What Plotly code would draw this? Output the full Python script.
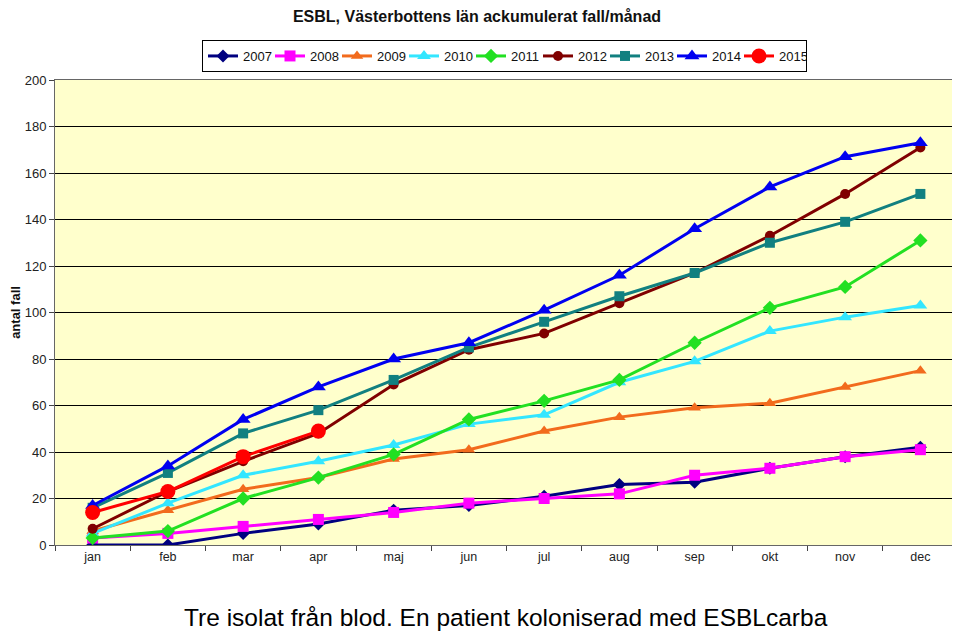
import plotly.graph_objects as go

months = ["jan", "feb", "mar", "apr", "maj", "jun", "jul", "aug", "sep", "okt", "nov", "dec"]

y2007 = [0, 0, 5, 9, 15, 17, 21, 26, 27, 33, 38, 42]
y2008 = [3, 5, 8, 11, 14, 18, 20, 22, 30, 33, 38, 41]
y2009 = [6, 15, 24, 29, 37, 41, 49, 55, 59, 61, 68, 75]
y2010 = [5, 18, 30, 36, 43, 52, 56, 70, 79, 92, 98, 103]
y2011 = [3, 6, 20, 29, 39, 54, 62, 71, 87, 102, 111, 131]
y2012 = [7, 23, 36, 48, 69, 84, 91, 104, 117, 133, 151, 171]
y2013 = [16, 31, 48, 58, 71, 85, 96, 107, 117, 130, 139, 151]
y2014 = [17, 34, 54, 68, 80, 87, 101, 116, 136, 154, 167, 173]
y2015 = [14, 23, 38, 49]

series = [
    ("2007", y2007, "#000080", "diamond", 10),
    ("2008", y2008, "#FF00FF", "square", 11),
    ("2009", y2009, "#F26B1D", "triangle-up", 11),
    ("2010", y2010, "#33E6FF", "triangle-up", 12),
    ("2011", y2011, "#22E022", "diamond", 11),
    ("2012", y2012, "#800000", "circle", 10),
    ("2013", y2013, "#118080", "square", 10),
    ("2014", y2014, "#0000F0", "triangle-up", 13),
    ("2015", y2015, "#FF0000", "circle", 15),
]

fig = go.Figure()
for name, ys, color, sym, size in series:
    fig.add_trace(go.Scatter(
        x=months[:len(ys)], y=ys, name=name, mode="lines+markers",
        line=dict(color=color, width=3),
        marker=dict(color=color, symbol=sym, size=size),
    ))

font_family = "Arial, Liberation Sans, sans-serif"

# page has an 8px body margin, so the figure is sized to the visible area
W, H = 952, 627
L, R, T, B = 47, 2, 72, 90
plot_h = H - T - B

fig.update_layout(
    width=W, height=H,
    paper_bgcolor="white",
    plot_bgcolor="#FFFFCC",
    margin=dict(l=L, r=R, t=T, b=B, autoexpand=False),
    font=dict(family=font_family, size=12, color="#222222"),
    title=dict(text="<b>ESBL, Västerbottens län ackumulerat fall/månad</b>",
               x=469 / W, xanchor="center", y=1 - 3 / H, yanchor="top",
               font=dict(size=16, color="#111111")),
    showlegend=True,
    legend=dict(orientation="h", x=(496.5 - L) / (W - L - R), xanchor="center",
                y=1 + (T - 32) / plot_h, yanchor="top",
                bordercolor="#000000", borderwidth=1, bgcolor="white",
                font=dict(size=13, color="#111111"),
                itemwidth=30, entrywidth=22, entrywidthmode="pixels"),
    xaxis=dict(type="category", categoryorder="array", categoryarray=months,
               range=[-0.5, 11.5], showgrid=False, tickson="boundaries",
               ticks="outside", ticklen=5, tickcolor="#444444",
               showline=True, linecolor="#666666", linewidth=1, mirror=True,
               automargin=False,
               tickfont=dict(size=12.5, color="#222222")),
    yaxis=dict(range=[0, 200], dtick=20, showgrid=True, gridcolor="#000000",
               gridwidth=1, ticks="outside", ticklen=5, tickcolor="#444444",
               showline=True, linecolor="#666666", linewidth=1, mirror=True,
               zeroline=False, automargin=False,
               title=dict(text="<b>antal fall</b>", font=dict(size=13, color="#111111"), standoff=7),
               tickfont=dict(size=13, color="#222222")),
    annotations=[dict(text="Tre isolat från blod. En patient koloniserad med ESBLcarba",
                      xref="paper", yref="paper", x=(174 - L) / (W - L - R), xanchor="left",
                      y=-(625 - (H - B)) / plot_h, yanchor="bottom", showarrow=False,
                      font=dict(size=24.5, color="#000000", family=font_family))],
)

fig.write_html("out.html")
